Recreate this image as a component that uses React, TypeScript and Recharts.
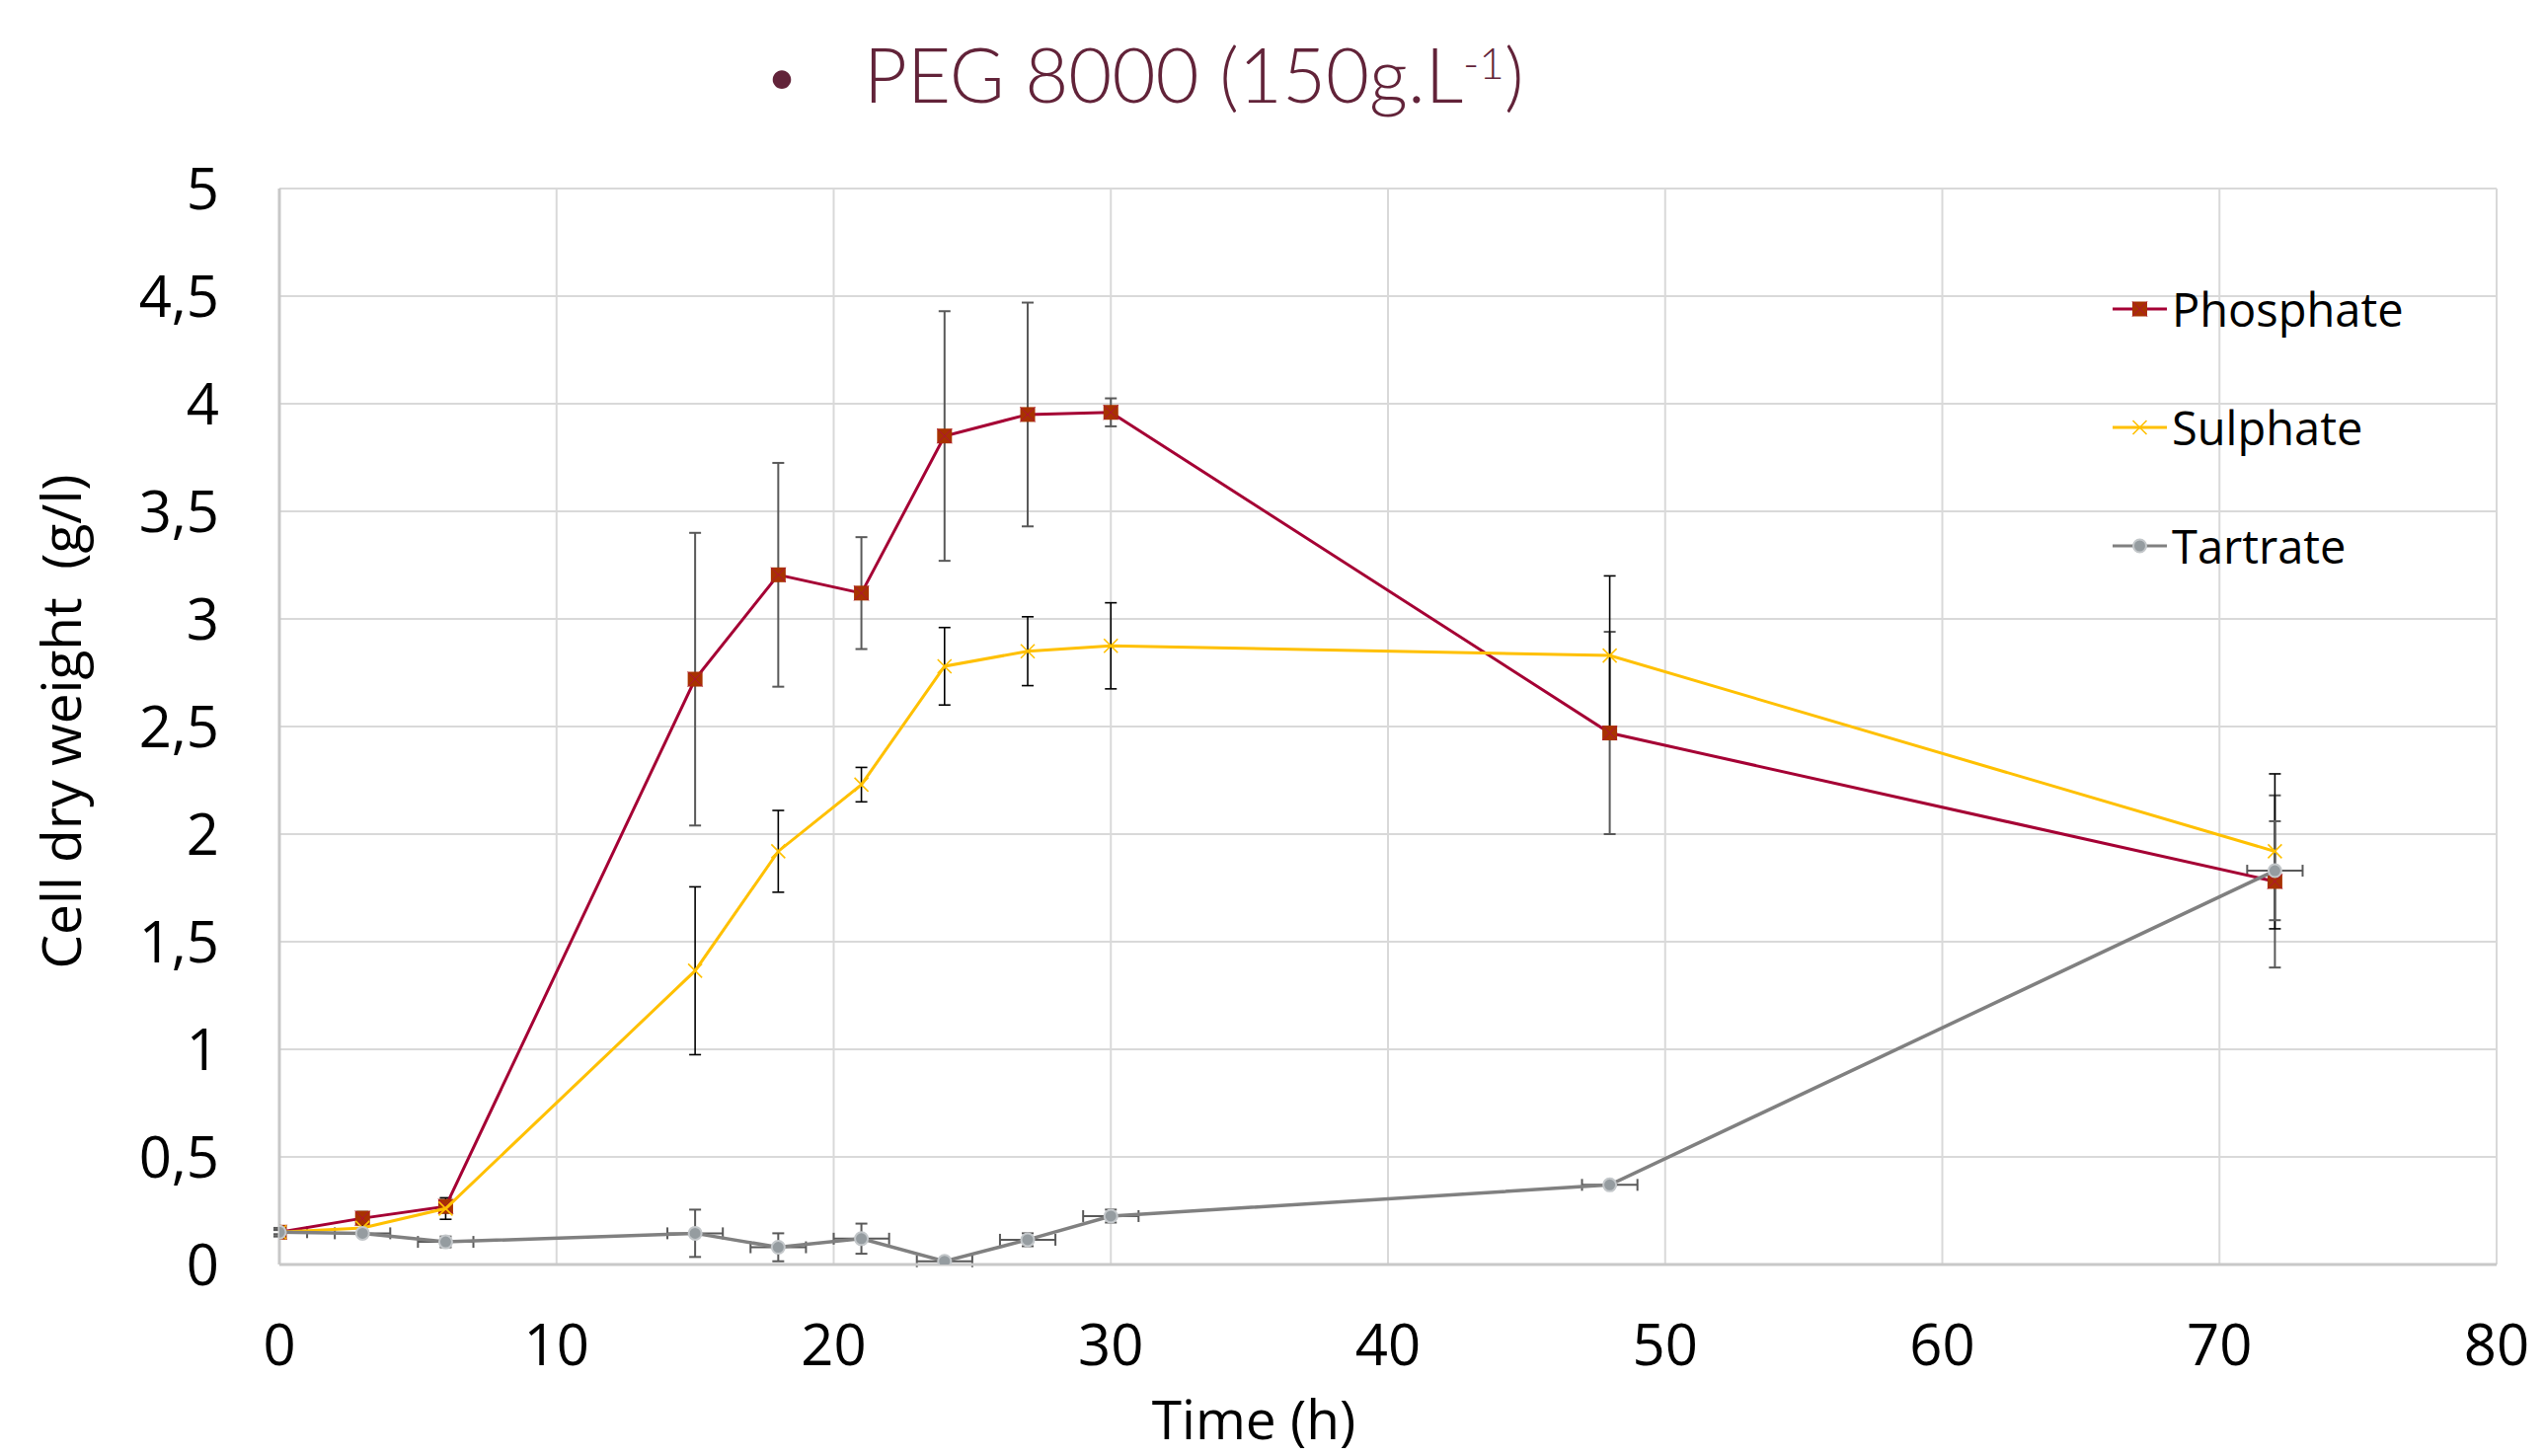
import React from "react";
import { ComposedChart, Scatter, XAxis, YAxis, CartesianGrid, ErrorBar, Legend } from "recharts";

const FONT = "'Open Sans', 'Noto Sans', sans-serif";

// sampling times (h)
const hours = [0, 3, 6, 15, 18, 21, 24, 27, 30, 48, 72];

// cell dry weight (g/l) and standard deviations
const phosphate = [0.15, 0.215, 0.27, 2.72, 3.205, 3.12, 3.85, 3.95, 3.96, 2.47, 1.78];
const phosphateSd = [0.02, 0.03, 0.03, 0.68, 0.52, 0.26, 0.58, 0.52, 0.065, 0.47, 0.4];

const sulphate = [0.15, 0.17, 0.26, 1.365, 1.92, 2.23, 2.78, 2.85, 2.875, 2.83, 1.92];
const sulphateSd = [0.01, 0.02, 0.05, 0.39, 0.19, 0.08, 0.18, 0.16, 0.2, 0.37, 0.36];

const tartrate = [0.15, 0.145, 0.105, 0.145, 0.08, 0.12, 0.015, 0.115, 0.225, 0.37, 1.83];
const tartrateSd = [0.01, 0.01, 0.025, 0.11, 0.065, 0.07, 0.01, 0.03, 0.03, 0.01, 0.23];
// time error (h); the bar at t=0 is cut by the axis, only its right half shows
const tartrateTimeSd: (number | number[])[] = [[0, 1], 1, 1, 1, 1, 1, 1, 1, 1, 1, 1];

const xTicks = [0, 10, 20, 30, 40, 50, 60, 70, 80];
const yTicks = [0, 0.5, 1, 1.5, 2, 2.5, 3, 3.5, 4, 4.5, 5];

const COLORS = {
  phosphate: "#a50034",
  sulphate: "#ffc000",
  tartrate: "#808080",
};

function rows(vals: number[], sd: number[], timeSd?: (number | number[])[]) {
  return hours.map((t, i) => ({ t, v: vals[i], ey: sd[i], ex: timeSd ? timeSd[i] : 0 }));
}

function SquareMark({ cx, cy }: any) {
  const s = 7.5;
  return (
    <g>
      <rect x={cx - s} y={cy - s} width={2 * s} height={2 * s} fill="#a83200" />
      <path
        d={`M${cx - s},${cy - s}L${cx + s},${cy + s}M${cx + s},${cy - s}L${cx - s},${cy + s}`}
        stroke="#b0103c"
        strokeWidth={1}
      />
    </g>
  );
}

function CrossMark({ cx, cy }: any) {
  const s = 7;
  return (
    <path
      d={`M${cx - s},${cy - s}L${cx + s},${cy + s}M${cx + s},${cy - s}L${cx - s},${cy + s}`}
      stroke={COLORS.sulphate}
      strokeWidth={1.6}
      fill="none"
    />
  );
}

function DotMark({ cx, cy }: any) {
  return <circle cx={cx} cy={cy} r={6.5} fill="#959ca0" stroke="#c3c7ca" strokeWidth={2} />;
}

const legendItems = [
  { name: "Phosphate", color: COLORS.phosphate, Mark: SquareMark },
  { name: "Sulphate", color: COLORS.sulphate, Mark: CrossMark },
  { name: "Tartrate", color: COLORS.tartrate, Mark: DotMark },
];

function LegendBox() {
  return (
    <div style={{ fontFamily: FONT, fontSize: 47, color: "#000" }}>
      {legendItems.map((item) => (
        <div key={item.name} style={{ height: 120, display: "flex", alignItems: "center" }}>
          <svg width={55} height={30} style={{ display: "block" }}>
            <line x1={0} x2={55} y1={15} y2={15} stroke={item.color} strokeWidth={3} />
            <item.Mark cx={27.5} cy={15} />
          </svg>
          <span style={{ marginLeft: 5, lineHeight: 1 }}>{item.name}</span>
        </div>
      ))}
    </div>
  );
}

const fmt = (v: number) => String(v).replace(".", ",");

export default function App() {
  const tick = { fontSize: 58, fill: "#000", fontFamily: FONT };
  return (
    <div style={{ position: "absolute", left: 0, top: 0, width: 2578, height: 1475, background: "#fff" }}>
      <ComposedChart width={2578} height={1475} margin={{ top: 191, right: 49, bottom: 0, left: 0 }}>
        <CartesianGrid stroke="#d9d9d9" strokeWidth={2} />
        <XAxis
          type="number"
          dataKey="t"
          domain={[0, 80]}
          ticks={xTicks}
          allowDataOverflow
          height={194}
          tickLine={false}
          tickSize={0}
          tickMargin={61}
          axisLine={{ stroke: "#c8c8c8", strokeWidth: 3 }}
          tick={tick}
        />
        <YAxis
          type="number"
          dataKey="v"
          domain={[0, 5]}
          ticks={yTicks}
          allowDataOverflow
          width={283}
          tickLine={false}
          tickSize={0}
          tickMargin={61}
          tickFormatter={fmt}
          axisLine={{ stroke: "#c8c8c8", strokeWidth: 3 }}
          tick={tick}
        />
        <Scatter
          name="Phosphate"
          data={rows(phosphate, phosphateSd)}
          fill={COLORS.phosphate}
          line={{ stroke: COLORS.phosphate, strokeWidth: 3 }}
          lineType="joint"
          shape={SquareMark}
          isAnimationActive={false}
        >
          <ErrorBar dataKey="ey" direction="y" width={6} stroke="#595959" strokeWidth={2} isAnimationActive={false} />
        </Scatter>
        <Scatter
          name="Sulphate"
          data={rows(sulphate, sulphateSd)}
          fill={COLORS.sulphate}
          line={{ stroke: COLORS.sulphate, strokeWidth: 3 }}
          lineType="joint"
          shape={CrossMark}
          isAnimationActive={false}
        >
          <ErrorBar dataKey="ey" direction="y" width={6} stroke="#000" strokeWidth={1.6} isAnimationActive={false} />
        </Scatter>
        <Scatter
          name="Tartrate"
          data={rows(tartrate, tartrateSd, tartrateTimeSd)}
          fill={COLORS.tartrate}
          line={{ stroke: COLORS.tartrate, strokeWidth: 3.5 }}
          lineType="joint"
          shape={DotMark}
          isAnimationActive={false}
        >
          <ErrorBar dataKey="ey" direction="y" width={6} stroke="#595959" strokeWidth={2} isAnimationActive={false} />
          <ErrorBar dataKey="ex" direction="x" width={6} stroke="#595959" strokeWidth={2} isAnimationActive={false} />
        </Scatter>
        <Legend
          layout="vertical"
          align="center"
          verticalAlign="middle"
          content={() => <LegendBox />}
          wrapperStyle={{ left: 2140, top: 253, width: 420, height: 360 }}
        />
      </ComposedChart>
      <svg
        width={2578}
        height={1475}
        style={{ position: "absolute", left: 0, top: 0, pointerEvents: "none" }}
      >
        <text x={792} y={96} textAnchor="middle" fontSize={50} fontFamily="Lato, sans-serif" fill="#622339">
          •
        </text>
        <text x={875} y={104} fontSize={76} fontFamily="Lato, sans-serif" fontWeight={300} fill="#622339">
          PEG 8000 (150g.L
          <tspan dy={-24} fontSize={44}>-1</tspan>
          <tspan dy={24}>)</tspan>
        </text>
        <text x={1270} y={1458} textAnchor="middle" fontSize={55} fontFamily={FONT} fill="#000">
          Time (h)
        </text>
        <text
          x={82}
          y={731}
          transform="rotate(-90 82 731)"
          textAnchor="middle"
          fontSize={55}
          fontFamily={FONT}
          fill="#000"
          style={{ whiteSpace: "pre" }}
        >
          Cell dry weight  (g/l)
        </text>
      </svg>
    </div>
  );
}
